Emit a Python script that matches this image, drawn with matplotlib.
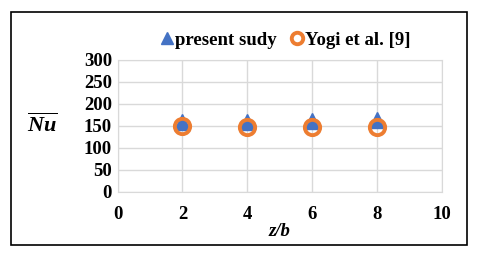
import matplotlib
matplotlib.use("Agg")
import matplotlib.pyplot as plt
from matplotlib.patches import Rectangle

z_b = [2, 4, 6, 8]
present_study = [158, 158, 161, 164]
yogi = [150, 148, 148, 148]

plt.rcParams['font.family'] = ['Liberation Serif', 'DejaVu Serif']
plt.rcParams['font.weight'] = 'bold'
plt.rcParams['mathtext.fontset'] = 'custom'
plt.rcParams['mathtext.it'] = 'Liberation Serif:italic:bold'
plt.rcParams['mathtext.rm'] = 'Liberation Serif:bold'

fig = plt.figure(figsize=(4.8, 2.54), dpi=100)
ax = fig.add_axes([0.245, 0.245, 0.675, 0.519])

ax.plot(z_b, present_study, linestyle='none', marker='^', markersize=12,
        color='#4472C4', label='present sudy')
ax.plot(z_b, yogi, linestyle='none', marker='o', markersize=11,
        markerfacecolor='none', markeredgecolor='#ED7D31', markeredgewidth=2.8,
        label='Yogi et al. [9]')

ax.set_xlim(0, 10)
ax.set_ylim(0, 300)
ax.set_xticks(range(0, 11, 2))
ax.set_yticks(range(0, 301, 50))
ax.grid(True, color='#d9d9d9', linewidth=1)
ax.set_axisbelow(True)
for s in ax.spines.values():
    s.set_color('#d9d9d9')
ax.tick_params(length=0, labelsize=13.5, pad=4)
ax.tick_params(axis='x', pad=10)
for lbl in ax.get_xticklabels() + ax.get_yticklabels():
    lbl.set_fontweight('bold')

ax.set_xlabel('z/b', fontsize=13.5, fontstyle='italic', fontweight='bold', labelpad=0)
ax.set_ylabel(r'$\overline{Nu}$', fontsize=16, rotation=0, labelpad=30, va='center')

leg = ax.legend(loc='lower center', bbox_to_anchor=(0.515, 1.0), ncol=2,
                frameon=False, fontsize=13.5, handletextpad=0.0, columnspacing=0.6,
                handlelength=0.9, borderaxespad=0.2, markerscale=0.75)
for t in leg.get_texts():
    t.set_fontweight('bold')

fig.patches.append(Rectangle((11 / 480, 1 - 245 / 254), 456 / 480, 233 / 254,
                             transform=fig.transFigure, fill=False,
                             edgecolor='black', linewidth=1.2))

fig.savefig('out.png', dpi=100)
